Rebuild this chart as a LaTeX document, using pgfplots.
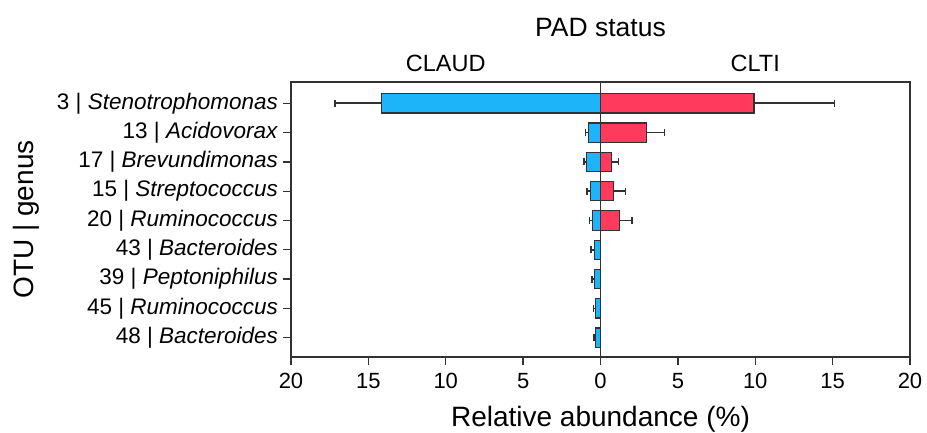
\documentclass[border=0pt]{standalone}
\usepackage{pgfplots}
\pgfplotsset{compat=1.18}
\usepackage{pgfplotstable}
\usepackage{fontspec}
\setmainfont{Liberation Sans}
\definecolor{claud}{RGB}{30,180,250}
\definecolor{clti}{RGB}{255,58,92}
\definecolor{axisgray}{RGB}{50,50,50}

\pgfplotstableread{
y x ex
9 -14.15 3.00
8 -0.76 0.21
7 -0.89 0.19
6 -0.65 0.24
5 -0.50 0.21
4 -0.39 0.21
3 -0.39 0.15
2 -0.32 0.13
1 -0.32 0.11
}\claudtable

\pgfplotstableread{
y x ex
9 9.92 5.20
8 2.96 1.18
7 0.69 0.48
6 0.82 0.80
5 1.23 0.82
}\cltitable

\begin{document}
\begin{tikzpicture}
\useasboundingbox (0,0) rectangle (927pt,432pt);
\begin{axis}[
  at={(291pt,75pt)}, anchor=south west,
  width=619pt, height=275pt, scale only axis,
  xmin=-20, xmax=20, ymin=0.341, ymax=9.727,
  clip=false,
  xbar,
  axis line style={draw=axisgray, line width=1.3pt},
  tick style={draw=axisgray, line width=1.3pt},
  tick align=outside, major tick length=8pt,
  xtick pos=bottom, ytick pos=left,
  xtick={-20,-15,...,20},
  /pgf/number format/assume math mode=true,
  xticklabel={\pgfmathparse{abs(\tick)}\pgfmathprintnumber[fixed,precision=0]{\pgfmathresult}},
  xticklabel style={font=\fontsize{22}{26}\selectfont, yshift=-5pt},
  ytick={1,...,9},
  yticklabels={{48 | \textit{Bacteroides}},{45 | \textit{Ruminococcus}},{39 | \textit{Peptoniphilus}},{43 | \textit{Bacteroides}},{20 | \textit{Ruminococcus}},{15 | \textit{Streptococcus}},{17 | \textit{Brevundimonas}},{13 | \textit{Acidovorax}},{3 | \textit{Stenotrophomonas}}},
  yticklabel style={font=\fontsize{22.5}{27}\selectfont, xshift=-1.5pt},
  xlabel={Relative abundance (\%)},
  xlabel style={font=\fontsize{28}{32}\selectfont, at={(axis description cs:0.5,-0.2535)}, anchor=base},
  ylabel={OTU | genus},
  ylabel style={font=\fontsize{28}{32}\selectfont, at={(axis description cs:-0.4163,0.5)}, anchor=base},
  title={PAD status},
  every axis title/.style={font=\fontsize{26.5}{30}\selectfont, at={(axis description cs:0.5,1.1647)}, anchor=base},
  every error bar/.append style={line width=1.7pt, draw=axisgray, solid},
  error bars/error mark=|,
  error bars/error mark options={line width=1.6pt, mark size=3.5pt, draw=axisgray, solid},
]
\addplot[xbar, bar width=19.3pt, bar shift=0pt, fill=claud, draw=axisgray, line width=1.1pt,
  error bars/.cd, x dir=minus, x explicit, error bar style={line width=1.7pt}]
  table[x=x, y=y, x error=ex]{\claudtable};
\addplot[xbar, bar width=19.3pt, bar shift=0pt, fill=clti, draw=axisgray, line width=1.1pt,
  error bars/.cd, x dir=plus, x explicit, error bar style={line width=1.7pt}]
  table[x=x, y=y, x error=ex]{\cltitable};
\draw[axisgray, line width=1.2pt] (axis cs:0,0.341) -- (axis cs:0,9.727);
\node[anchor=base, font=\fontsize{23.5}{28}\selectfont] at (axis description cs:0.25,1.0375) {CLAUD};
\node[anchor=base, font=\fontsize{23.5}{28}\selectfont] at (axis description cs:0.75,1.0375) {CLTI};
\end{axis}
\end{tikzpicture}
\end{document}
